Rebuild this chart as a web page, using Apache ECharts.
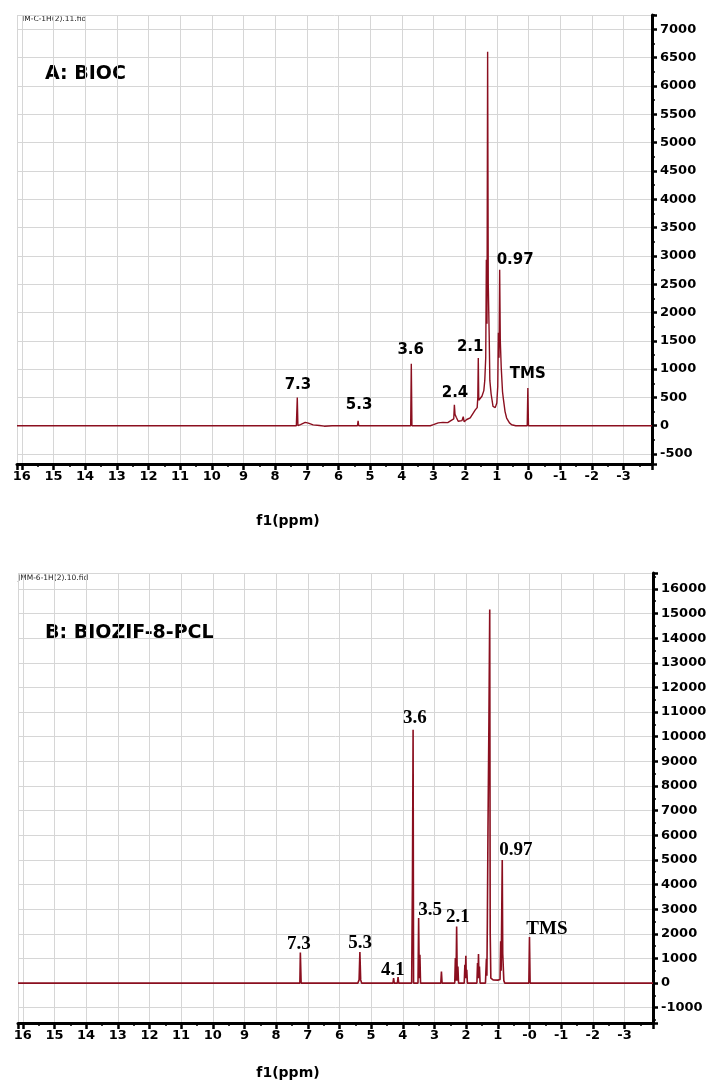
<!DOCTYPE html>
<html>
<head>
<meta charset="utf-8">
<script src="https://cdn.jsdelivr.net/npm/echarts@6.0.0/dist/echarts.min.js"></script>
<style>
html,body{margin:0;padding:0;background:#fff;}
#chart{width:713px;height:1083px;}
</style>
</head>
<body>
<div id="chart"></div>
<script>
// ---------- DATA ----------
// Panel A (BIOC) spectrum: chemical shift (ppm) and intensity
const ppmA = [16.15, 7.33, 7.30, 7.28, 7.26, 7.20, 7.05, 6.95, 6.80, 6.60, 6.45, 6.20,
  5.40, 5.38, 5.36, 3.72, 3.70, 3.68, 3.10, 3.00, 2.85, 2.70, 2.55, 2.45, 2.36, 2.34, 2.32,
  2.28, 2.25, 2.22, 2.16, 2.10, 2.06, 2.03, 1.95, 1.84, 1.75, 1.68, 1.62, 1.60, 1.585, 1.57,
  1.53, 1.47, 1.41, 1.38, 1.35, 1.33, 1.31, 1.29, 1.27, 1.24, 1.22, 1.18, 1.12, 1.05, 1.00,
  0.97, 0.95, 0.93, 0.91, 0.89, 0.86, 0.82, 0.79, 0.74, 0.69, 0.60, 0.53, 0.40,
  0.04, 0.02, 0.00, -3.9];
const intA = [0, 0, 500, 0, 15, 20, 58, 45, 15, 5, -8, 0,
  0, 85, 0, 0, 1094, 0, 0, 18, 50, 60, 55, 90, 120, 370, 200,
  150, 140, 80, 50, 90, 160, 70, 110, 140, 220, 280, 320, 500, 1195, 450,
  460, 520, 620, 800, 1200, 2930, 1800, 6606, 2500, 1576, 800, 560, 340, 320, 400,
  700, 1640, 1200, 2753, 1500, 1024, 600, 460, 250, 136, 50, 18, 0,
  0, 665, 0, 0];

// Panel B (BIOZIF-8-PCL) spectrum
const ppmB = [16.15, 7.25, 7.235, 7.225, 7.21, 5.42, 5.38, 5.355, 5.33, 5.30,
  4.31, 4.29, 4.27, 4.17, 4.15, 4.13, 3.72, 3.695, 3.675, 3.66,
  3.52, 3.50, 3.48, 3.46, 3.44, 2.80, 2.78, 2.76,
  2.36, 2.34, 2.32, 2.30, 2.28, 2.26, 2.24,
  2.06, 2.04, 2.025, 2.01, 1.995, 1.98, 1.96,
  1.66, 1.64, 1.625, 1.61, 1.595, 1.58, 1.56,
  1.39, 1.36, 1.345, 1.33, 1.31, 1.28, 1.255, 1.24, 1.22, 1.15, 1.00, 0.93,
  0.91, 0.895, 0.875, 0.86, 0.845, 0.83, 0.81, 0.78,
  0.02, 0.00, -0.02, -3.9];
const intB = [0, 0, 1240, 1240, 0, 0, 130, 1260, 130, 0,
  0, 200, 0, 0, 245, 0, 0, 4200, 10284, 0,
  0, 2640, 200, 1150, 0, 0, 470, 0,
  0, 1015, 100, 2300, 100, 675, 0,
  0, 740, 200, 1110, 200, 540, 0,
  0, 810, 200, 1180, 200, 675, 0,
  0, 990, 300, 2500, 6300, 10700, 15160, 2000, 200, 130, 120, 150,
  1700, 500, 3000, 5000, 1200, 1230, 100, 0,
  0, 1870, 0, 0];

// Peak annotations: text, ppm, intensity (anchor of the label centre)
const labelTextA = ['7.3', '5.3', '3.6', '2.4', '2.1', '0.97', 'TMS'];
const labelPpmA  = [7.28, 5.35, 3.72, 2.32, 1.84, 0.42, 0.02];
const labelIntA  = [711, 371, 1341, 582, 1382, 2930, 912];

const labelTextB = ['7.3', '5.3', '4.1', '3.6', '3.5', '2.1', '0.97', 'TMS'];
const labelPpmB  = [7.28, 5.35, 4.31, 3.62, 3.14, 2.26, 0.43, -0.55];
const labelIntB  = [1600, 1610, 540, 10771, 2980, 2660, 5380, 2200];

// Axis ticks / labels
const xTickValues  = [16, 15, 14, 13, 12, 11, 10, 9, 8, 7, 6, 5, 4, 3, 2, 1, 0, -1, -2, -3];
const xTickLabelsA = ['16','15','14','13','12','11','10','9','8','7','6','5','4','3','2','1','0','-1','-2','-3'];
const xTickLabelsB = ['16','15','14','13','12','11','10','9','8','7','6','5','4','3','2','1','-0','-1','-2','-3'];

const titleA = 'A: BIOC';
const titleB = 'B: BIOZIF-8-PCL';
const fileA = 'IM-C-1H(2).11.fid';
const fileB = 'JMM-6-1H(2).10.fid';
const xName = 'f1(ppm)';

// ---------- CHART ----------
const LINE = '#8b0f1f';
const GRID = '#d6d6d6';
const SANS = 'DejaVu Sans';

function zip(a, b) { return a.map((v, i) => [v, b[i]]); }

function makeX(idx, labels) {
  return {
    gridIndex: idx, type: 'value', inverse: true, min: -3.9, max: 16.15, splitNumber: 20,
    axisLine: { show: true, onZero: false, lineStyle: { color: '#000', width: 3 } },
    axisTick: { show: true, inside: false, length: 6, lineStyle: { color: '#000', width: 2.5 } },
    minorTick: { show: true, splitNumber: 2, length: 3, lineStyle: { color: '#000', width: 1.5 } },
    splitLine: { show: true, lineStyle: { color: GRID, width: 1 } },
    axisLabel: {
      show: true, margin: 6, showMinLabel: false, showMaxLabel: false,
      color: '#000', fontFamily: SANS, fontWeight: 'bold', fontSize: 13,
      formatter: function (v) {
        const k = xTickValues.indexOf(Math.round(v));
        if (Math.abs(v - Math.round(v)) > 1e-6 || k < 0) return '';
        return labels[k];
      }
    }
  };
}
function makeY(idx, min, max, split) {
  return {
    gridIndex: idx, type: 'value', position: 'right', min: min, max: max, splitNumber: split,
    axisLine: { show: true, onZero: false, lineStyle: { color: '#000', width: 3 } },
    axisTick: { show: true, inside: false, length: 5, lineStyle: { color: '#000', width: 2.5 } },
    minorTick: { show: true, splitNumber: 2, length: 3, lineStyle: { color: '#000', width: 1.5 } },
    splitLine: { show: true, lineStyle: { color: GRID, width: 1 } },
    axisLabel: {
      show: true, margin: 8, showMinLabel: false, showMaxLabel: false,
      color: '#000', fontFamily: SANS, fontWeight: 'bold', fontSize: 13,
      formatter: function (v) { return String(Math.round(v)); }
    }
  };
}

const staticGraphics = [
  { type: 'text', left: 45, top: 65, style: { text: titleA, fill: '#000', font: 'bold 19px "DejaVu Sans"' } },
  { type: 'text', left: 45, top: 624, style: { text: titleB, fill: '#000', font: 'bold 19px "DejaVu Sans"' } },
  { type: 'text', left: 22, top: 15, style: { text: fileA, fill: '#222', font: '7.5px "DejaVu Sans"' } },
  { type: 'text', left: 18, top: 574, style: { text: fileB, fill: '#222', font: '7.5px "DejaVu Sans"' } },
  { type: 'text', x: 288, y: 521, style: { text: xName, fill: '#000', font: 'bold 14px "DejaVu Sans"', align: 'center', verticalAlign: 'middle' } },
  { type: 'text', x: 288, y: 1073, style: { text: xName, fill: '#000', font: 'bold 14px "DejaVu Sans"', align: 'center', verticalAlign: 'middle' } }
];

const chart = echarts.init(document.getElementById('chart'), null, { renderer: 'canvas' });
chart.setOption({
  animation: false,
  backgroundColor: '#fff',
  grid: [
    { left: 17, right: 61, top: 15, height: 449 },
    { left: 18, right: 60, top: 573, height: 450 }
  ],
  xAxis: [makeX(0, xTickLabelsA), makeX(1, xTickLabelsB)],
  yAxis: [makeY(0, -676, 7254, 16), makeY(1, -1620, 16645, 18)],
  series: [
    {
      type: 'line', xAxisIndex: 0, yAxisIndex: 0, data: zip(ppmA, intA),
      showSymbol: false, symbol: 'none', silent: true,
      lineStyle: { color: LINE, width: 1.4 }
    },
    {
      type: 'line', xAxisIndex: 1, yAxisIndex: 1, data: zip(ppmB, intB),
      showSymbol: false, symbol: 'none', silent: true,
      lineStyle: { color: LINE, width: 1.6 }
    }
  ],
  graphic: staticGraphics
});

// Peak labels placed through the chart's own coordinate system
function peakLabels(gridIndex, texts, ppms, ints, font) {
  return texts.map(function (t, i) {
    const p = chart.convertToPixel({ gridIndex: gridIndex }, [ppms[i], ints[i]]);
    return { type: 'text', x: p[0], y: p[1], z: 100, silent: true,
      style: { text: t, fill: '#000', font: font, align: 'center', verticalAlign: 'middle' } };
  });
}
chart.setOption({
  graphic: staticGraphics
    .concat(peakLabels(0, labelTextA, labelPpmA, labelIntA, 'bold 15px "DejaVu Sans"'))
    .concat(peakLabels(1, labelTextB, labelPpmB, labelIntB, 'bold 19px "Liberation Serif"'))
});
</script>
</body>
</html>
